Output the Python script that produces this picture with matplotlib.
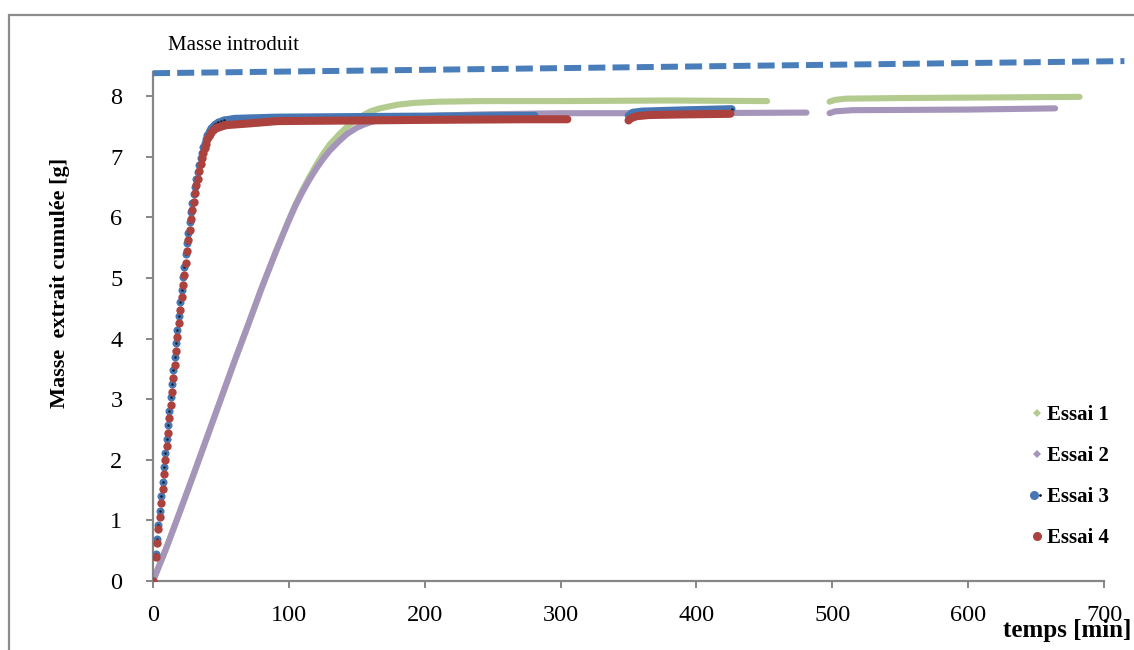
import matplotlib
matplotlib.use("Agg")
import matplotlib.pyplot as plt
from matplotlib.lines import Line2D
from matplotlib.patches import Rectangle
from matplotlib.legend_handler import HandlerTuple

plt.rcParams["font.family"] = ["Liberation Serif", "DejaVu Serif"]

# Essai 1 (green) - two recorded segments
t1_a = [0, 10, 20, 30, 40, 50, 60, 70, 80, 90, 95, 100, 105, 110, 115, 120, 125, 130, 137, 143, 150, 155, 160, 167, 180, 192, 210, 241, 300, 380, 452]
m1_a = [0, 0.55, 1.15, 1.76, 2.38, 3.00, 3.62, 4.22, 4.83, 5.41, 5.69, 5.96, 6.22, 6.45, 6.66, 6.86, 7.04, 7.20, 7.37, 7.50, 7.62, 7.69, 7.75, 7.80, 7.86, 7.89, 7.91, 7.92, 7.92, 7.93, 7.92]
t1_b = [498, 502, 510, 550, 620, 682]
m1_b = [7.91, 7.94, 7.96, 7.97, 7.98, 7.99]

# Essai 2 (purple)
t2_a = [0, 10, 20, 30, 40, 50, 60, 70, 80, 90, 95, 100, 105, 110, 115, 120, 125, 130, 137, 143, 150, 155, 160, 167, 180, 192, 210, 241, 300, 380, 481]
m2_a = [0, 0.56, 1.16, 1.77, 2.39, 3.01, 3.63, 4.23, 4.84, 5.41, 5.68, 5.95, 6.20, 6.42, 6.62, 6.80, 6.96, 7.10, 7.26, 7.38, 7.48, 7.53, 7.57, 7.61, 7.64, 7.66, 7.68, 7.70, 7.72, 7.72, 7.73]
t2_b = [498, 502, 515, 600, 664]
m2_b = [7.72, 7.75, 7.77, 7.78, 7.80]

# Essai 3 / Essai 4 - fast extraction, sampled about once a minute
t_rise = [0, 2, 3, 4, 5, 6, 7, 8, 9, 10, 11, 12, 13, 14, 15, 16, 17, 18, 19, 20,
          21, 22, 23, 24, 25, 26, 27, 28, 29, 30, 31, 32, 33, 34, 35, 36, 37, 38, 39, 40,
          41, 42, 43, 44, 45, 46, 47, 48, 50, 52]
m3_rise = [0.00, 0.45, 0.70, 0.93, 1.16, 1.40, 1.63, 1.88, 2.11, 2.34, 2.57, 2.80, 3.03, 3.25, 3.48, 3.70, 3.93, 4.15, 4.38, 4.60,
           4.81, 5.01, 5.19, 5.39, 5.58, 5.75, 5.92, 6.09, 6.24, 6.38, 6.51, 6.64, 6.75, 6.87, 6.98, 7.07, 7.16, 7.23, 7.30, 7.36,
           7.41, 7.45, 7.48, 7.51, 7.53, 7.55, 7.56, 7.57, 7.59, 7.60]
m4_rise = [0.00, 0.39, 0.62, 0.85, 1.06, 1.29, 1.52, 1.77, 2.00, 2.23, 2.45, 2.69, 2.91, 3.12, 3.35, 3.57, 3.80, 4.02, 4.25, 4.47,
           4.68, 4.88, 5.05, 5.25, 5.45, 5.63, 5.79, 5.97, 6.12, 6.26, 6.40, 6.53, 6.64, 6.76, 6.88, 6.98, 7.07, 7.14, 7.22, 7.29,
           7.34, 7.38, 7.41, 7.44, 7.46, 7.48, 7.49, 7.50, 7.51, 7.52]
t3_a = [52, 60, 90, 150, 220, 281]
m3_a = [7.60, 7.63, 7.65, 7.66, 7.67, 7.68]
t3_b = [350, 353, 360, 390, 426]
m3_b = [7.68, 7.73, 7.75, 7.77, 7.79]
t4_a = [52, 70, 92, 150, 200, 274, 305]
m4_a = [7.52, 7.55, 7.59, 7.60, 7.61, 7.62, 7.62]
t4_b = [350, 352, 356, 365, 390, 425]
m4_b = [7.60, 7.64, 7.67, 7.69, 7.70, 7.71]

# mass introduced (reference line)
intro_t = [0, 715]
intro_m = [8.38, 8.58]

labels = ["Essai 1", "Essai 2", "Essai 3", "Essai 4"]
GREEN = "#B3CB8F"
PURPLE = "#A595BB"
BLUE = "#4677B4"
RED = "#AC423E"
DASH = "#4A7EBB"
GREY = "#868686"

fig = plt.figure(figsize=(11.34, 6.5), dpi=100)
ax = fig.add_axes([153 / 1134, 69 / 650, 951 / 1134, 509 / 650])

# slow runs drawn as dense streaks
for t, m in [(t1_a, m1_a), (t1_b, m1_b)]:
    ax.plot(t, m, color=GREEN, lw=4.4, solid_capstyle="round", solid_joinstyle="round", zorder=2)
for t, m in [(t2_a, m2_a), (t2_b, m2_b)]:
    ax.plot(t, m, color=PURPLE, lw=4.4, solid_capstyle="round", solid_joinstyle="round", zorder=2)

# fast runs: plateau streaks + individual points on the rise
for t, m in [(t3_a, m3_a), (t3_b, m3_b)]:
    ax.plot(t, m, color=BLUE, lw=5.5, solid_capstyle="round", zorder=3)
ax.plot(t_rise, m3_rise, "o", color=BLUE, ms=5.8, mew=0, zorder=3)
ax.plot(t_rise, m3_rise, "o", color="#1a1a1a", ms=1.8, mew=0, zorder=3)
ax.plot(t3_b[-1:], m3_b[-1:], "o", color="#1a1a1a", ms=1.8, mew=0, zorder=3)
for t, m in [(t4_a, m4_a), (t4_b, m4_b)]:
    ax.plot(t, m, color=RED, lw=5.8, solid_capstyle="round", zorder=4)
ax.plot(t_rise, m4_rise, "o", color=RED, ms=6.0, mew=0, zorder=4)

line, = ax.plot(intro_t, intro_m, color=DASH, lw=4.3, clip_on=False, zorder=5,
                solid_capstyle="butt", dash_capstyle="butt")
line.set_dashes([2.85, 1.2])

ax.set_xlim(0, 700)
ax.set_ylim(0, 8.4)
ax.set_xticks(range(0, 701, 100))
ax.set_yticks(range(0, 9))
for s in ["top", "right"]:
    ax.spines[s].set_visible(False)
for s in ["left", "bottom"]:
    ax.spines[s].set_color(GREY)
    ax.spines[s].set_linewidth(1.6)
ax.tick_params(axis="both", direction="out", length=5, width=1.4, color=GREY, labelsize=17.5)
ax.tick_params(axis="y", pad=17)
ax.tick_params(axis="x", pad=12)

handles = [
    Line2D([], [], ls="none", marker="D", color=GREEN, ms=4.5, mew=0),
    Line2D([], [], ls="none", marker="D", color=PURPLE, ms=4.5, mew=0),
    (Line2D([], [], ls="none", marker="o", color=BLUE, ms=6.5, mew=0),
     Line2D([], [], ls="none", marker="o", color="#1a1a1a", ms=2, mew=0)),
    Line2D([], [], ls="none", marker="o", color=RED, ms=6.5, mew=0),
]
ax.legend(handles, labels, loc="upper left", bbox_to_anchor=(1020 / 1134, 1 - 395 / 650),
          bbox_transform=fig.transFigure, frameon=False, prop={"weight": "bold", "size": 15},
          handlelength=0.6, handletextpad=0.2, labelspacing=1.0, borderpad=0,
          handler_map={tuple: HandlerTuple(ndivide=None)})

fig.text(60 / 1134, 1 - 283 / 650, "Masse  extrait cumulée [g]", rotation=90,
         ha="center", va="center", fontsize=16, fontweight="bold")
fig.text(1067 / 1134, 1 - 631 / 650, "temps [min]", ha="center", va="center",
         fontsize=18, fontweight="bold")
fig.text(168 / 1134, 1 - 45 / 650, "Masse introduit", ha="left", va="center", fontsize=15)

fig.patches.append(Rectangle((9 / 1134, -0.1), 1.2, 1.1 - 15 / 650, transform=fig.transFigure,
                             fill=False, edgecolor="#8C8C8C", lw=1.6))

fig.savefig("out.png", dpi=100)
